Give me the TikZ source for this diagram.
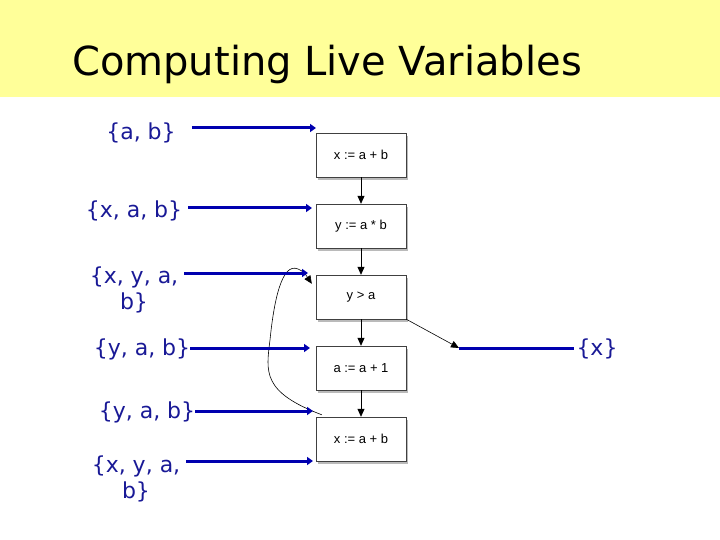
\documentclass[tikz,border=0pt]{standalone}
\usepackage{fontspec}
\setmainfont{DejaVu Sans}
\newfontfamily\stmtfont{Liberation Sans}
\usepackage{xcolor}
\usepackage{tikz}
\usetikzlibrary {arrows.meta}
\usetikzlibrary{shadows, calc}
\definecolor{slideyellow}{RGB}{255,255,153}
\definecolor{liveblue}{RGB}{0,0,175}
\definecolor{settext}{RGB}{25,25,150}
\tikzset{
    stmt/.style={draw=black!75, fill=white, minimum width=90pt, minimum height=44pt,
        inner sep=0pt, font=\stmtfont\fontsize{13}{15}\selectfont,
        drop shadow={shadow xshift=2pt, shadow yshift=-3pt, fill=black!45, opacity=0.6}},
    liveset/.style={text=settext, align=center, inner sep=6pt,
        font=\fontsize{22}{26}\selectfont},
    live/.style={draw=liveblue, line width=3pt, -{Triangle[length=6pt,width=8pt]}},
    flow/.style={draw=black, line width=0.8pt, -{Triangle[length=8pt,width=7pt]}}
}

\begin{document}
\begin{tikzpicture}[x=1pt,y=-1pt]
\useasboundingbox (0,0) rectangle (720,540);
\fill[slideyellow] (0,0) rectangle (720,97);
\node[anchor=base west, inner sep=0pt, font=\fontsize{40}{44}\selectfont] (title) at (72,76) {Computing Live Variables};

% statements
\node[stmt] (s1) at (361,155) {x := a + b};
\node[stmt] (s2) at (361,226) {y := a * b};
\node[stmt] (s3) at (361,297) {y > a};
\node[stmt] (s4) at (361,368) {a := a + 1};
\node[stmt] (s5) at (361,439) {x := a + b};

\draw[flow] (s1) -- (s2);
\draw[flow] (s2) -- (s3);
\draw[flow] (s3) -- (s4);
\draw[flow] (s4) -- (s5);

% back edge and exit
\coordinate (back) at ($(s5.north west)+(6,-2)$);
\coordinate (loop) at ($(s3.north west)+(-4,9)$);
\draw[flow, line width=0.6pt] (back) .. controls (262,392) and (266,372) .. (270,340)
    .. controls (274,300) and (282,262) .. (298,269)
    .. controls (304,272) .. (loop);
\coordinate (exit) at (459,348);
\draw[flow, line width=0.6pt] (s3.south east) -- (exit);

% live sets
\node[liveset] (l1) at (141,133) {\{a, b\}};
\node[liveset] (l2) at (134,211) {\{x, a, b\}};
\node[liveset] (l3) at (134,290) {\{x, y, a,\\ b\}};
\node[liveset] (l4) at (142,349) {\{y, a, b\}};
\node[liveset] (l5) at (147,412) {\{y, a, b\}};
\node[liveset] (l6) at (136,479) {\{x, y, a,\\ b\}};
\node[liveset, inner sep=2pt] (lx) at (597,349) {\{x\}};

\coordinate (e1) at (316,128);
\coordinate (e2) at (312,208);
\coordinate (e3) at (308,273);
\coordinate (e4) at (310,348);
\coordinate (e5) at (313,411);
\coordinate (e6) at (313,461);

\draw[live] ($(l1.east |- e1)+(10,0)$) -- (e1);
\draw[live] (l2.east |- e2) -- (e2);
\draw[live] (l3.east |- e3) -- (e3);
\draw[live] ($(l4.east |- e4)+(-6,0)$) -- (e4);
\draw[live] ($(l5.east |- e5)+(-6,0)$) -- (e5);
\draw[live] (l6.east |- e6) -- (e6);
\draw[live, -] (exit) -- (lx.west |- exit);
\end{tikzpicture}
\end{document}
